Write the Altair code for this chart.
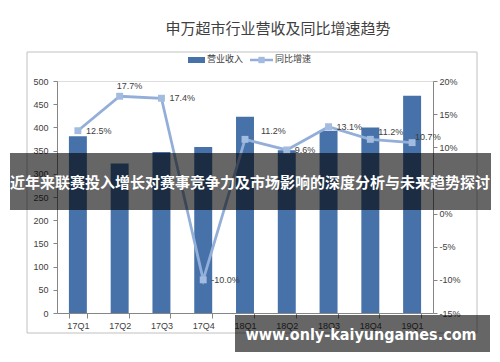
import altair as alt
import pandas as pd

quarters = ["17Q1", "17Q2", "17Q3", "17Q4", "18Q1", "18Q2", "18Q3", "18Q4", "19Q1"]
revenue = [381, 322, 347, 358, 423, 351, 393, 400, 468]
growth = [12.5, 17.7, 17.4, -10.0, 11.2, 9.6, 13.1, 11.2, 10.7]

title_text = "申万超市行业营收及同比增速趋势"
legend_bar = "营业收入"
legend_line = "同比增速"
banner_text = "近年来联赛投入增长对赛事竞争力及市场影响的深度分析与未来趋势探讨"
watermark_text = "www.only-kaiyungames.com"

df = pd.DataFrame({"quarter": quarters, "revenue": revenue, "growth": growth})
df["label"] = [f"{g:.1f}%" for g in growth]
one = pd.DataFrame({"a": [0]})

FONT = "Liberation Sans"
CJK = "Noto Sans CJK SC"
BAR = "#4672a9"
LINE = "#93afd9"
MARK = "#a3bbdf"
TXT = "#404040"

xenc = alt.X("quarter:N", sort=quarters, title=None,
             scale=alt.Scale(paddingInner=0.57, paddingOuter=0.285),
             axis=alt.Axis(labelAngle=0, labelFont=FONT, labelFontSize=9, labelColor=TXT,
                           domainColor="#868686", tickColor="#868686", tickSize=5,
                           tickBand="extent", labelPadding=3, grid=False))

bars = alt.Chart(df).mark_bar(color=BAR).encode(
    x=xenc,
    y=alt.Y("revenue:Q", title=None, scale=alt.Scale(domain=[0, 500], nice=False),
            axis=alt.Axis(values=list(range(0, 501, 50)), labelFont=FONT, labelFontSize=9,
                          labelColor=TXT, domainColor="#868686", tickColor="#868686",
                          tickSize=4, labelPadding=5, grid=False)),
)

gy = alt.Y("growth:Q", title=None, scale=alt.Scale(domain=[-15, 20], nice=False),
           axis=alt.Axis(orient="right", values=list(range(-15, 21, 5)),
                         labelExpr="datum.value + '%'", labelFont=FONT, labelFontSize=9,
                         labelColor=TXT, domainColor="#868686", tickColor="#868686",
                         tickSize=4, labelPadding=2, grid=False))

line = alt.Chart(df).mark_line(color=LINE, strokeWidth=2.8).encode(x=xenc, y=gy)
pts = alt.Chart(df).mark_square(color=MARK, size=48, opacity=1).encode(x=xenc, y=gy)


def lbl(qs, dx, dy):
    return alt.Chart(df).transform_filter(
        alt.FieldOneOfPredicate(field="quarter", oneOf=qs)
    ).mark_text(align="left", baseline="middle", dx=dx, dy=dy, font=FONT,
                fontSize=9, color=TXT).encode(x=xenc, y=gy, text="label:N")


labels = [
    lbl(["17Q1", "17Q3", "17Q4", "18Q2", "18Q3"], 8, 0),
    lbl(["17Q2"], -3, -10),
    lbl(["18Q1"], 16, -8),
    lbl(["18Q4"], 8, -7),
    lbl(["19Q1"], 3, -6),
]

growth_layer = alt.layer(line, pts, *labels)

base = alt.Chart(one)

border = base.mark_rect(fillOpacity=0, stroke="#c0c0c0", strokeWidth=1).encode(
    x=alt.value(-30), x2=alt.value(420), y=alt.value(-29), y2=alt.value(252))

title = base.mark_text(font=CJK, fontSize=15, color="#404040", align="center",
                       baseline="middle").encode(
    x=alt.value(221), y=alt.value(-52), text=alt.value(title_text))

leg_rect = base.mark_rect(color=BAR).encode(
    x=alt.value(131), x2=alt.value(148), y=alt.value(-24), y2=alt.value(-18))
leg_t1 = base.mark_text(font=CJK, fontSize=9, color=TXT, align="left",
                        baseline="middle").encode(
    x=alt.value(150), y=alt.value(-22), text=alt.value(legend_bar))
leg_line = base.mark_rule(color=LINE, strokeWidth=2.5).encode(
    x=alt.value(193), x2=alt.value(216), y=alt.value(-21))
leg_sq = base.mark_square(color=MARK, size=40, opacity=1).encode(
    x=alt.value(204.5), y=alt.value(-21))
leg_t2 = base.mark_text(font=CJK, fontSize=9, color=TXT, align="left",
                        baseline="middle").encode(
    x=alt.value(218), y=alt.value(-22), text=alt.value(legend_line))

band1 = base.mark_rect(color="black", opacity=0.6).encode(
    x=alt.value(-47), x2=alt.value(434), y=alt.value(72), y2=alt.value(129))
band1_t = base.mark_text(font=CJK, fontSize=15, fontWeight="bold", color="white",
                         align="center", baseline="middle").encode(
    x=alt.value(193), y=alt.value(102), text=alt.value(banner_text))

band2 = base.mark_rect(color="black", opacity=0.6).encode(
    x=alt.value(178), x2=alt.value(433), y=alt.value(234), y2=alt.value(271))
band2_t = base.mark_text(font="DejaVu Sans Condensed", fontSize=16, fontWeight="bold",
                         color="white", align="center", baseline="middle").encode(
    x=alt.value(304), y=alt.value(254), text=alt.value(watermark_text))

chart = alt.layer(
    border, title, leg_rect, leg_t1, leg_line, leg_sq, leg_t2,
    bars, growth_layer,
    band1, band1_t, band2, band2_t,
).resolve_scale(y="independent").properties(
    width=376, height=232,
    autosize=alt.AutoSizeParams(type="none"),
    padding={"left": 49, "top": 73, "right": 59, "bottom": 41},
).configure_view(stroke=None).configure(background="white")

chart.save("out.html", embed_options={"renderer": "svg", "actions": False})
